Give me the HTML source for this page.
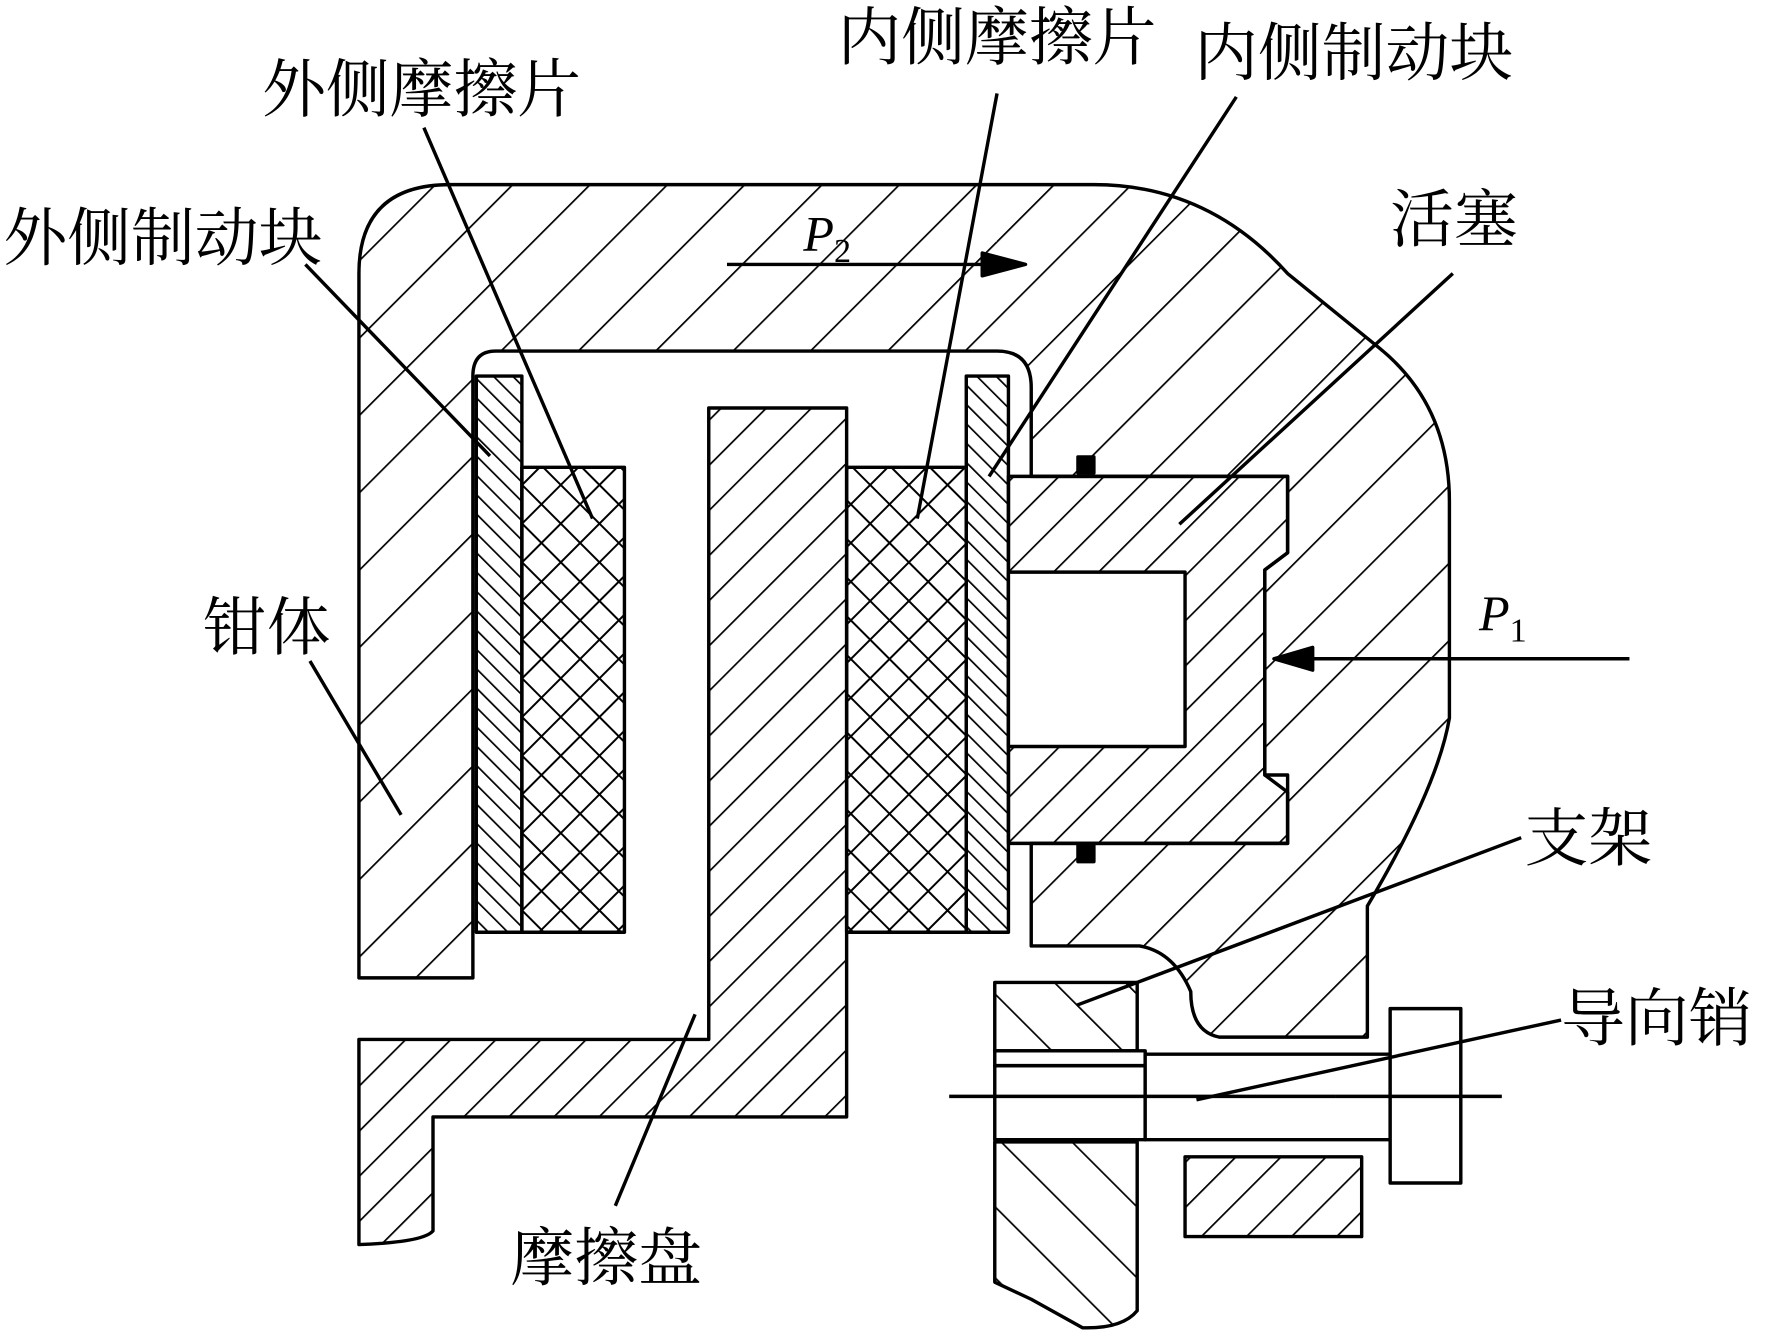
<!DOCTYPE html>
<html><head><meta charset="utf-8"><style>
html,body{margin:0;padding:0;background:#fff}
svg{display:block}
text{font-family:"Liberation Serif","Noto Serif CJK SC",serif;font-size:56px;fill:#000}
.it{font-family:"Liberation Serif",serif;font-style:italic;font-size:44px}
</style></head><body>
<svg width="1781" height="1338" viewBox="0 0 1563 1174" preserveAspectRatio="none" xmlns="http://www.w3.org/2000/svg">
<defs>
<pattern id="wide" patternUnits="userSpaceOnUse" width="48" height="48" patternTransform="rotate(45)">
<line x1="0" y1="0" x2="0" y2="48" stroke="#000" stroke-width="3"/></pattern>
<pattern id="mid" patternUnits="userSpaceOnUse" width="28" height="28" patternTransform="rotate(45)">
<line x1="0" y1="0" x2="0" y2="28" stroke="#000" stroke-width="3"/></pattern>
<pattern id="fine" patternUnits="userSpaceOnUse" width="12" height="12" patternTransform="rotate(-45)">
<line x1="0" y1="0" x2="0" y2="12" stroke="#000" stroke-width="3"/></pattern>
<pattern id="brk" patternUnits="userSpaceOnUse" width="44" height="44" patternTransform="rotate(-45)">
<line x1="0" y1="0" x2="0" y2="44" stroke="#000" stroke-width="3"/></pattern>
<pattern id="cross" patternUnits="userSpaceOnUse" width="24" height="24" patternTransform="rotate(45)">
<line x1="0" y1="0" x2="0" y2="24" stroke="#000" stroke-width="3.5"/>
<line x1="0" y1="0" x2="24" y2="0" stroke="#000" stroke-width="3.5"/></pattern>
</defs>
<g stroke="#000" stroke-width="3" stroke-linejoin="round">
<path fill="url(#wide)" d="M315,858 L315,240 Q315,162 395,162 L960,162 Q1060,162 1130,240 L1210,305 Q1272,355 1272,440 L1272,630 Q1262,690 1200,795 L1200,910 L1070,910 Q1045,905 1045,870 Q1030,835 1000,830 L905,830 L905,740 L1130,740 L1130,680 L1110,680 L1110,500 L1130,485 L1130,418 L905,418 L905,340 Q905,308 875,308 L435,308 Q415,308 415,330 L415,858 Z"/>
<rect x="418" y="330" width="40" height="488" fill="url(#fine)"/>
<rect x="458" y="410" width="90" height="408" fill="url(#cross)"/>
<path fill="url(#mid)" d="M622,358 L743,358 L743,980 L380,980 L380,1080 Q372,1090 315,1092 L315,912 L622,912 Z"/>
<rect x="743" y="410" width="105" height="408" fill="url(#cross)"/>
<rect x="848" y="330" width="37" height="488" fill="url(#fine)"/>
<path fill="url(#mid)" d="M885,418 L1130,418 L1130,485 L1110,500 L1110,680 L1130,695 L1130,740 L885,740 Z"/>
<rect x="885" y="502" width="155" height="153" fill="#fff"/>
<rect x="946" y="401" width="14" height="14" fill="#000"/>
<rect x="946" y="742" width="14" height="14" fill="#000"/>
<rect x="873" y="862" width="125" height="60" fill="url(#brk)"/>
<path fill="url(#brk)" d="M873,1002 L998,1002 L998,1150 Q985,1166 950,1165 L905,1140 L873,1125 Z"/>
<rect x="873" y="935" width="132" height="65" fill="#fff"/>
<rect x="873" y="922" width="132" height="13" fill="#fff"/>
<rect x="1005" y="925" width="215" height="75" fill="#fff"/>
<rect x="1220" y="885" width="62" height="153" fill="#fff"/>
<rect x="1040" y="1015" width="155" height="70" fill="url(#mid)"/>
<line x1="833" y1="962" x2="1172" y2="962" stroke-dasharray="340,5,60,5"/>
<line x1="1172" y1="962" x2="1318" y2="962"/>
<line x1="638" y1="232" x2="870" y2="232"/>
<path d="M900,232 L862,222 L862,242 Z" fill="#000"/>
<line x1="1430" y1="578" x2="1150" y2="578"/>
<path d="M1118,578 L1152,568 L1152,588 Z" fill="#000"/>
<line x1="268" y1="232" x2="430" y2="400"/>
<line x1="372" y1="112" x2="520" y2="455"/>
<line x1="875" y1="82" x2="805" y2="455"/>
<line x1="1085" y1="85" x2="868" y2="418"/>
<line x1="1275" y1="240" x2="1035" y2="460"/>
<line x1="272" y1="580" x2="352" y2="715"/>
<line x1="1335" y1="735" x2="945" y2="882"/>
<line x1="1370" y1="895" x2="1050" y2="965"/>
<line x1="610" y1="890" x2="540" y2="1058"/>
</g>
<text x="230" y="98">外侧摩擦片</text>
<text x="735" y="52">内侧摩擦片</text>
<text x="1048" y="66">内侧制动块</text>
<text x="3" y="228">外侧制动块</text>
<text x="1220" y="212">活塞</text>
<text x="178" y="570">钳体</text>
<text x="1338" y="755">支架</text>
<text x="1370" y="913">导向销</text>
<text x="448" y="1123">摩擦盘</text>
<text x="705" y="220" class="it">P<tspan font-size="30" dy="10" font-style="normal">2</tspan></text>
<text x="1298" y="553" class="it">P<tspan font-size="30" dy="10" font-style="normal">1</tspan></text>
</svg>
</body></html>
